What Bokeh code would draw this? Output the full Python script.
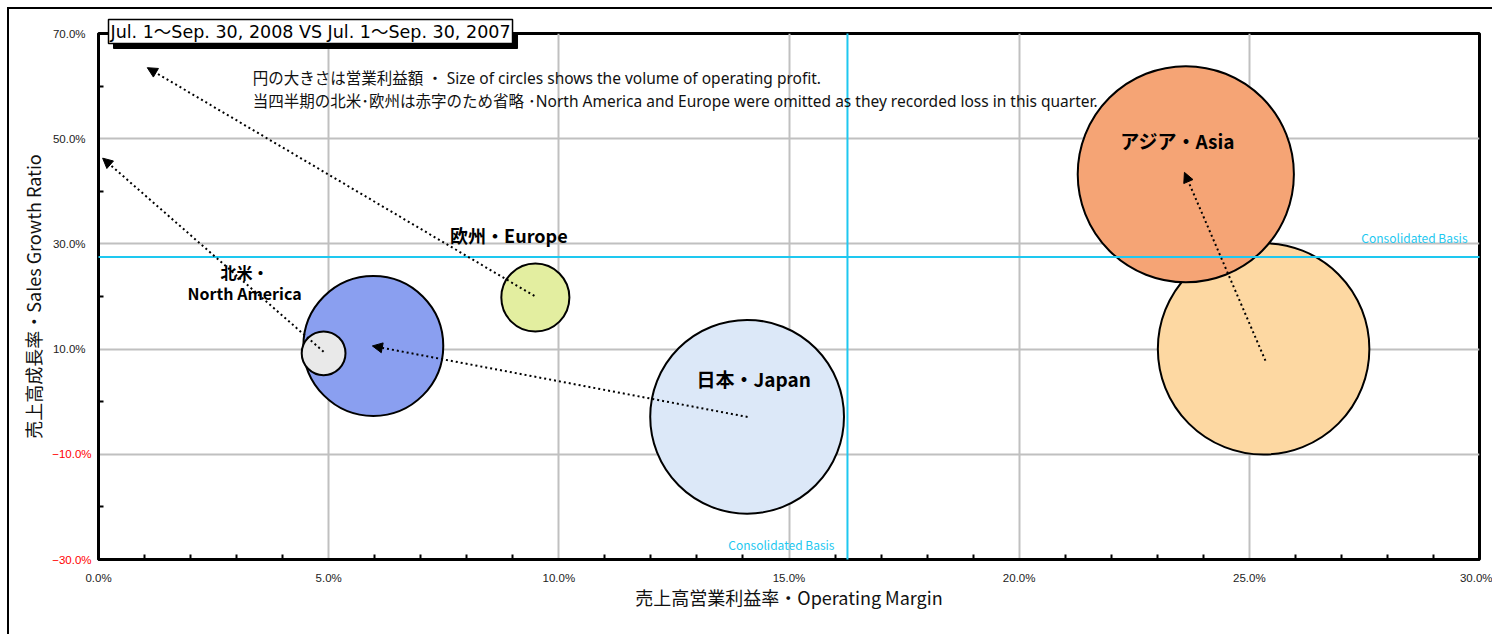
from bokeh.plotting import figure
from bokeh.models import (Range1d, FixedTicker, CustomJSTickFormatter, ColumnDataSource,
                          Label, Arrow, NormalHead)
from bokeh.core.properties import value
from bokeh.embed import file_html
from bokeh.resources import INLINE

# ---------------- data ----------------
bubble_names = ["Japan 2007", "Asia 2007", "Japan 2008", "North America 2007", "Europe 2007", "Asia 2008"]
bubble_margin = [14.09, 25.31, 5.97, 4.89, 9.49, 23.62]      # operating margin (%)
bubble_growth = [-2.87, 10.04, 10.6, 9.2, 19.8, 43.24]       # sales growth ratio (%)
bubble_profit = [9.4, 11.2, 4.9, 0.48, 1.16, 11.7]           # operating profit (relative)
bubble_labels = ["日本・Japan", "", "", "北米・\nNorth America", "欧州・Europe", "アジア・Asia"]

arrow_from_margin = [4.89, 9.47, 14.10, 25.35]
arrow_from_growth = [9.5, 20.1, -2.9, 7.8]
arrow_to_margin = [0.09, 1.06, 5.95, 23.59]
arrow_to_growth = [46.3, 63.5, 10.6, 43.6]

consolidated_margin = 16.27
consolidated_growth = 27.5

x_major = [0, 5, 10, 15, 20, 25, 30]
x_minor = [v for v in range(1, 30) if v % 5 != 0]
y_major = [-30, -10, 10, 30, 50, 70]
y_minor = [-20, 0, 20, 40, 60]

title_text = "Jul. 1～Sep. 30, 2008 VS Jul. 1～Sep. 30, 2007"
note1 = "円の大きさは営業利益額 ・ Size of circles shows the volume of operating profit."
note2 = "当四半期の北米･欧州は赤字のため省略 ･North America and Europe were omitted as they recorded loss in this quarter."

# ---------------- styles ----------------
fills = ["#dce8f8", "#fdd8a2", "#8a9ff0", "#e9e9e9", "#e3eea0", "#f5a475"]
label_dx = [6.5, 0, 0, -79, -26.5, -8]
label_dy = [-38, 0, 0, -71, -62.5, -34]
label_size = ["19px", "19px", "19px", "16px", "18px", "19px"]
CYAN = "#1ec8f0"
JP = "Noto Sans CJK JP"
NOTE_FONT = "Noto Sans, Noto Sans CJK JP"
TITLE_FONT = "DejaVu Sans, Noto Sans CJK JP"
TICK_FONT = "Liberation Sans"

x0, x1, y0, y1 = 0, 30, -30, 70

p = figure(width=1485, height=627, x_range=Range1d(x0, x1), y_range=Range1d(y0, y1),
           output_backend="svg", toolbar_location=None,
           min_border_left=89, min_border_right=15, min_border_top=22, min_border_bottom=76)
p.styles = {"margin-left": "7px", "margin-top": "7px",
            "border-left": "2px solid black", "border-top": "2px solid black"}
p.title.visible = False
p.outline_line_color = "black"
p.outline_line_width = 3

for ax in (p.xaxis[0], p.yaxis[0]):
    ax.axis_line_width = 3
    ax.axis_line_color = "black"
    ax.major_tick_line_color = None
    ax.minor_tick_line_color = "black"
    ax.minor_tick_line_width = 2
    ax.minor_tick_in = 5
    ax.minor_tick_out = 0
    ax.major_label_text_font = TICK_FONT
    ax.major_label_text_font_size = "11.5px"
    ax.major_label_text_color = "#222222"
    ax.axis_label_text_font = JP
    ax.axis_label_text_font_size = "18px"
    ax.axis_label_text_font_style = "normal"
    ax.axis_label_text_color = "#111111"

p.xaxis.ticker = FixedTicker(ticks=x_major, minor_ticks=x_minor)
p.yaxis.ticker = FixedTicker(ticks=y_major, minor_ticks=y_minor)
p.xaxis.formatter = CustomJSTickFormatter(code="return tick.toFixed(1) + '%';")
p.yaxis.formatter = CustomJSTickFormatter(code="return tick < 0 ? '' : tick.toFixed(1) + '%';")
p.xaxis.major_label_standoff = 6
p.yaxis.major_label_standoff = 7
p.xaxis.axis_label = "売上高営業利益率・Operating Margin"
p.yaxis.axis_label = "売上高成長率・Sales Growth Ratio"
p.xaxis.axis_label_standoff = -3
p.yaxis.axis_label_standoff = 4

p.xgrid.grid_line_color = "#c0c0c0"
p.ygrid.grid_line_color = "#c0c0c0"
p.xgrid.grid_line_width = 2
p.ygrid.grid_line_width = 2

# negative y tick labels in red (kept in the bottom side panel, which has spare room,
# so that they are drawn outside the frame without being clipped)
for v in y_major:
    if v < 0:
        p.add_layout(Label(x=x0, y=v, x_offset=-7, text="\u2212%.1f%%" % abs(v),
                           text_align="right", text_baseline="middle", text_color="red",
                           text_font=TICK_FONT, text_font_size="11.5px"), "below")

# bubbles
src = ColumnDataSource(dict(
    x=bubble_margin, y=bubble_growth,
    size=[63.2 * (v ** 0.5) for v in bubble_profit],
    fill=fills, label=bubble_labels, dx=label_dx, dy=label_dy, fs=label_size))
p.scatter(x="x", y="y", size="size", source=src, marker="circle",
          fill_color="fill", line_color="black", line_width=2)

# consolidated basis lines (slightly overshooting the frame, as in the original)
yspan = y1 - y0
xspan = x1 - x0
p.add_layout(Arrow(x_start=consolidated_margin, x_end=consolidated_margin,
                   y_start=y0 - 0.023 * yspan, y_end=y1 + 0.034 * yspan,
                   start=None, end=None, line_color=CYAN, line_width=2), "below")
p.add_layout(Arrow(x_start=x0 - 0.009 * xspan, x_end=x1 + 0.02 * xspan,
                   y_start=consolidated_growth, y_end=consolidated_growth,
                   start=None, end=None, line_color=CYAN, line_width=2), "below")
p.add_layout(Label(x=consolidated_margin, y=y0, x_offset=-13, y_offset=15,
                   text="Consolidated Basis", text_align="right", text_baseline="middle",
                   text_color=CYAN, text_font=JP, text_font_size="12px"))
p.add_layout(Label(x=x1, y=consolidated_growth, x_offset=-12, y_offset=20,
                   text="Consolidated Basis", text_align="right", text_baseline="middle",
                   text_color=CYAN, text_font=JP, text_font_size="12px"))

# arrows
asrc = ColumnDataSource(dict(xs=arrow_from_margin, ys=arrow_from_growth,
                             xe=arrow_to_margin, ye=arrow_to_growth))
p.add_layout(Arrow(x_start="xs", y_start="ys", x_end="xe", y_end="ye", source=asrc,
                   line_color="black", line_width=2, line_dash="2 3",
                   end=NormalHead(size=10, fill_color="black", line_color="black", line_width=1)))

# bubble labels
p.text(x="x", y="y", text="label", x_offset="dx", y_offset="dy", source=src,
       text_font=value(JP), text_font_style="bold", text_font_size="fs",
       text_align="center", text_baseline="middle", text_line_height=0.9, text_color="black")

# notes
p.add_layout(Label(x=3.35, y=61.5, text=note1, text_baseline="middle",
                   text_font=NOTE_FONT, text_font_size="15.5px", text_color="#111111"))
p.add_layout(Label(x=3.35, y=57.1, text=note2, text_baseline="middle",
                   text_font=NOTE_FONT, text_font_size="15.5px", text_color="#111111"))

# title box: shadow drawn early inside the frame, white box in the top panel drawn last
p.add_layout(Label(x=x0, y=y1, x_offset=15, y_offset=-3, text=title_text, text_baseline="middle",
                   text_font=TITLE_FONT, text_font_size="17.5px", text_color="black",
                   background_fill_color="black", border_line_color="black", padding=2,
                   level="underlay"))
p.add_layout(Label(x=x0, y=y1, x_offset=10, y_offset=2, text=title_text, text_baseline="middle",
                   text_font=TITLE_FONT, text_font_size="17.5px", text_color="black",
                   background_fill_color="white", border_line_color="black",
                   border_line_width=1.5, padding=2, level="overlay"), "above")

open("out.html", "w").write(file_html(p, INLINE))
